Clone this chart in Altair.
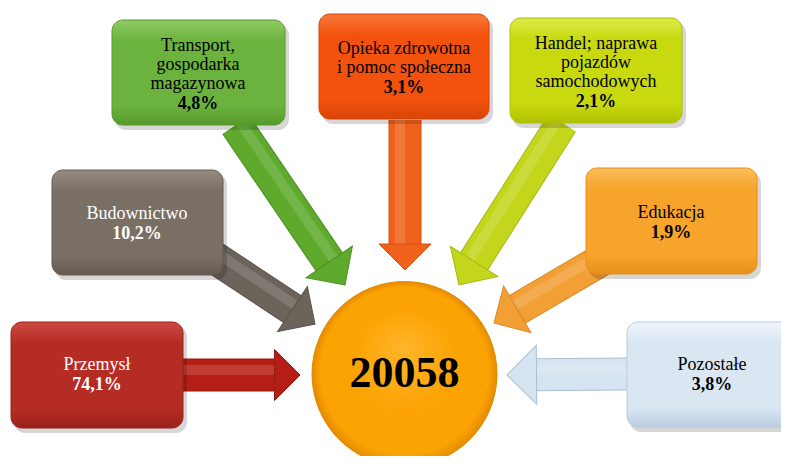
import math
import altair as alt
import pandas as pd

# ---- data ----
labels = [
    "Transport,\ngospodarka\nmagazynowa",
    "Opieka zdrowotna\ni pomoc społeczna",
    "Handel; naprawa\npojazdów\nsamochodowych",
    "Budownictwo",
    "Edukacja",
    "Przemysł",
    "Pozostałe",
]
shares = ["4,8%", "3,1%", "2,1%", "10,2%", "1,9%", "74,1%", "3,8%"]
total_label = "20058"

# ---- styles ----
FONT = "'Liberation Serif', 'Times New Roman', Times, serif"
box_fill = ["#6CB23E", "#F2520E", "#C8DA0F", "#7A6F64", "#F6A42B", "#B52C25", "#DAE7F3"]
box_light = ["#8FCB63", "#F8793A", "#DDEB4A", "#958B80", "#FBBE5C", "#CC4A42", "#EEF4FA"]
box_dark = ["#559A2B", "#D84406", "#AFC000", "#655B51", "#E6901A", "#9A221C", "#B9CCDF"]
arrow_fill = ["#5FAA2C", "#F0621C", "#C3D61C", "#6C635B", "#F29F36", "#B51E14", "#D6E4F1"]
arrow_edge = ["#4A8E20", "#D85010", "#A6B812", "#5A524B", "#D88A24", "#961810", "#A9BED2"]
text_color = ["black", "black", "black", "white", "black", "white", "black"]
circle_fill = ["#FFB52A", "#FCA304", "#E58B00"]

# ---- layout (page pixel positions) ----
box_left = [112, 319, 510, 52, 586, 11, 627]
box_right = [285, 489, 682, 223, 757, 183, 800]
box_top = [20, 14, 18, 170, 168, 322, 322]
box_bottom = [125, 119, 123, 275, 274, 428, 427]
label_baseline = [51, 54, 49, 219, 218, 370, 370]
text_center = [198, 404, 596, 137, 671, 97, 712]
arrow_start_x = [236, 405, 562, 200, 610, 183, 627]
arrow_start_y = [125, 120, 123, 248, 255, 375, 374]
arrow_tip_x = [345, 405, 459, 315, 494, 300, 507]
arrow_tip_y = [285, 270, 285, 324, 323, 375, 375]
head_width = [56, 52, 56, 54, 54, 51, 59]
shaft_width = 31
circle_x, circle_y, circle_r = 404.5, 374, 92.5

XD = [8, 781]
YD = [8, 456]


def X(f):
    return alt.X(f, type="quantitative", scale=alt.Scale(domain=XD, nice=False, zero=False), axis=None)


def Y(f):
    return alt.Y(f, type="quantitative", scale=alt.Scale(domain=YD, nice=False, zero=False, reverse=True), axis=None)


def blend(c, t):
    c = c.lstrip("#")
    r, g, b = int(c[0:2], 16), int(c[2:4], 16), int(c[4:6], 16)
    r, g, b = [int(v + (255 - v) * t) for v in (r, g, b)]
    return "#%02x%02x%02x" % (r, g, b)


# ---- arrows ----
shaft_rows, stripe_rows, head_rows = [], [], []
for i in range(len(labels)):
    dx = arrow_tip_x[i] - arrow_start_x[i]
    dy = arrow_tip_y[i] - arrow_start_y[i]
    d = math.hypot(dx, dy)
    ux, uy = dx / d, dy / d
    L = head_width[i] / 2.0
    bx, by = arrow_tip_x[i] - ux * L, arrow_tip_y[i] - uy * L
    shaft_rows.append(dict(x=arrow_start_x[i], y=arrow_start_y[i], x2=bx + ux * 2, y2=by + uy * 2,
                           c=arrow_fill[i], e=arrow_edge[i]))
    px, py = uy, -ux
    if py > 0 or (py == 0 and px > 0):
        px, py = -px, -py
    stripe_rows.append(dict(x=arrow_start_x[i] + px * 5, y=arrow_start_y[i] + py * 5,
                            x2=bx + px * 5, y2=by + py * 5, c=blend(arrow_fill[i], 0.4)))
    ang = math.degrees(math.atan2(dy, dx)) % 360
    head_rows.append(dict(x=bx, y=by, a=ang, s=head_width[i] ** 2, c=arrow_fill[i], e=arrow_edge[i]))

shaft_df = pd.DataFrame(shaft_rows)
shaft_edges = alt.Chart(shaft_df).mark_rule(strokeWidth=shaft_width + 2, strokeCap="butt").encode(
    x=X("x"), y=Y("y"), x2="x2", y2="y2", color=alt.Color("e:N", scale=None)
)
shafts = alt.Chart(shaft_df).mark_rule(strokeWidth=shaft_width, strokeCap="butt").encode(
    x=X("x"), y=Y("y"), x2="x2", y2="y2", color=alt.Color("c:N", scale=None)
)
stripes = alt.Chart(pd.DataFrame(stripe_rows)).mark_rule(strokeWidth=10, strokeCap="butt", opacity=0.35).encode(
    x=X("x"), y=Y("y"), x2="x2", y2="y2", color=alt.Color("c:N", scale=None)
)
heads = alt.Chart(pd.DataFrame(head_rows)).mark_point(
    shape="M0,-1L1,0L0,1Z", filled=True, opacity=1, strokeWidth=1
).encode(
    x=X("x"), y=Y("y"),
    angle=alt.Angle("a:Q", scale=None),
    size=alt.Size("s:Q", scale=None),
    fill=alt.Fill("c:N", scale=None),
    stroke=alt.Stroke("e:N", scale=None),
)

layers = [shaft_edges, shafts, stripes, heads]

# ---- boxes ----
shadow_df = pd.DataFrame(dict(x=[v + 3 for v in box_left], x2=[v + 4 for v in box_right],
                              y=[v + 4 for v in box_top], y2=[v + 5 for v in box_bottom]))
layers.append(
    alt.Chart(shadow_df).mark_rect(cornerRadius=11, color="#000000", opacity=0.16).encode(
        x=X("x"), x2="x2", y=Y("y"), y2="y2"
    )
)
for i in range(len(labels)):
    grad = alt.Gradient(
        gradient="linear",
        stops=[
            alt.GradientStop(color=box_light[i], offset=0),
            alt.GradientStop(color=box_fill[i], offset=0.2),
            alt.GradientStop(color=box_fill[i], offset=0.82),
            alt.GradientStop(color=box_dark[i], offset=1),
        ],
        x1=0, x2=0, y1=0, y2=1,
    )
    bdf = pd.DataFrame(dict(x=[box_left[i]], x2=[box_right[i]], y=[box_top[i]], y2=[box_bottom[i]]))
    layers.append(
        alt.Chart(bdf).mark_rect(cornerRadius=11, fill=grad, stroke=box_dark[i], strokeWidth=1).encode(
            x=X("x"), x2="x2", y=Y("y"), y2="y2"
        )
    )

# ---- central circle ----
cgrad = alt.Gradient(
    gradient="radial",
    stops=[
        alt.GradientStop(color=circle_fill[0], offset=0),
        alt.GradientStop(color=circle_fill[1], offset=0.55),
        alt.GradientStop(color=circle_fill[1], offset=0.9),
        alt.GradientStop(color=circle_fill[2], offset=1),
    ],
    x1=0.5, y1=0.35, r1=0, x2=0.5, y2=0.5, r2=0.5,
)
cdf = pd.DataFrame(dict(x=[circle_x], y=[circle_y], t=[total_label]))
layers.append(
    alt.Chart(cdf).mark_point(shape="circle", filled=True, fill=cgrad, opacity=1,
                              size=(2 * circle_r) ** 2, stroke="#E08A00", strokeWidth=1).encode(
        x=X("x"), y=Y("y")
    )
)
layers.append(
    alt.Chart(cdf).mark_text(font=FONT, fontSize=44, fontWeight="bold", color="black",
                             baseline="middle", align="center").encode(
        x=X("x"), y=Y("y"), text="t:N"
    )
)

# ---- box texts ----
nlines = [len(s.split("\n")) for s in labels]
tdf = pd.DataFrame(dict(
    x=text_center, y=label_baseline, t=labels, c=text_color,
    py=[label_baseline[i] + (nlines[i] - 1) * 19 + 20 for i in range(len(labels))],
    p=shares,
))
layers.append(
    alt.Chart(tdf).mark_text(font=FONT, fontSize=18, lineBreak="\n", lineHeight=19,
                             align="center", baseline="alphabetic").encode(
        x=X("x"), y=Y("y"), text="t:N", color=alt.Color("c:N", scale=None)
    )
)
layers.append(
    alt.Chart(tdf).mark_text(font=FONT, fontSize=18, fontWeight="bold",
                             align="center", baseline="alphabetic").encode(
        x=X("x"), y=Y("py"), text="p:N", color=alt.Color("c:N", scale=None)
    )
)

chart = alt.layer(*layers).properties(
    width=773, height=448, autosize=alt.AutoSizeParams(type="none"), padding=0
).configure_view(stroke=None)

chart.save("out.html", embed_options={"renderer": "svg", "actions": False})
